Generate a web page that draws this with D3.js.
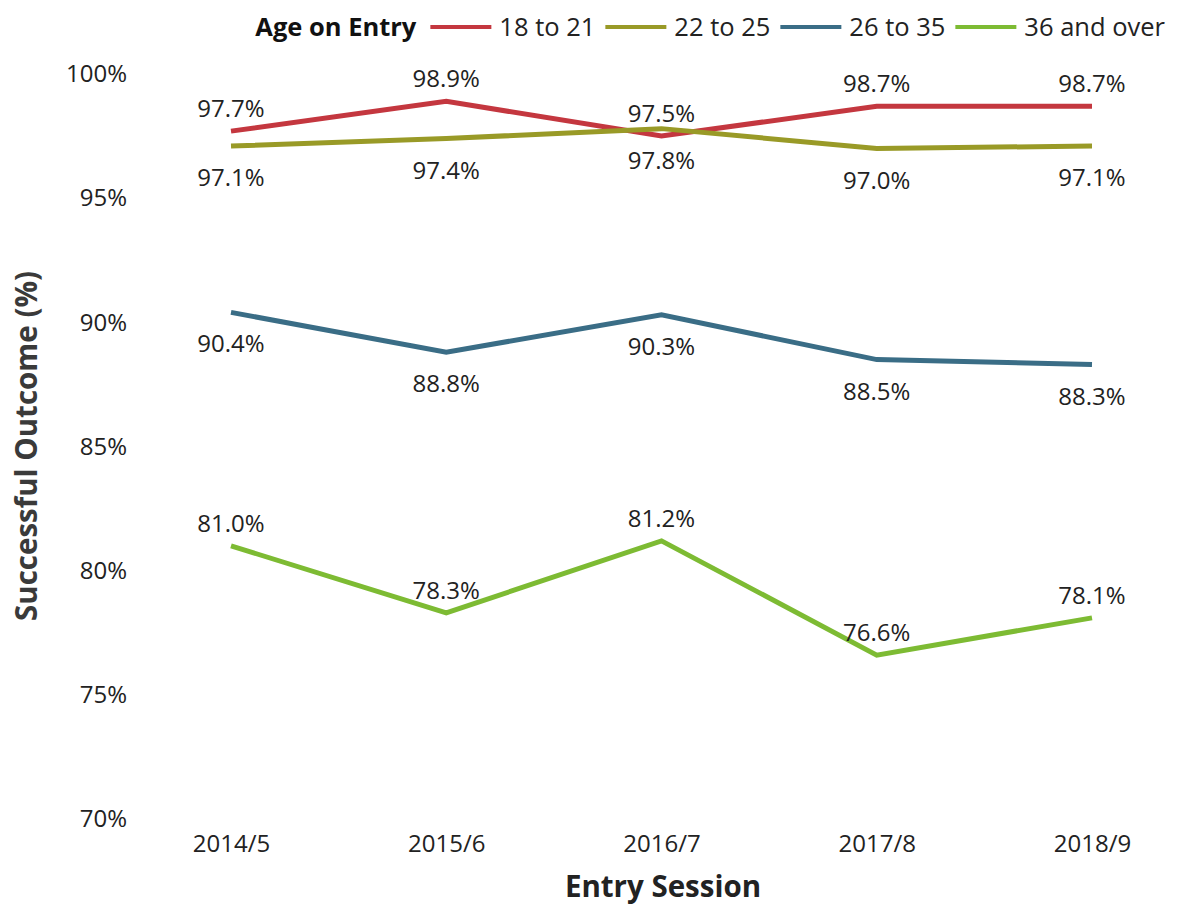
<!DOCTYPE html>
<html>
<head>
<meta charset="utf-8">
<script src="https://cdn.jsdelivr.net/npm/d3@7"></script>
<style>
  body { margin: 0; background: #fff; }
  text { font-family: "Open Sans", "Noto Sans", sans-serif; }
</style>
</head>
<body>
<div id="chart"></div>
<script>
const sessions = ["2014/5", "2015/6", "2016/7", "2017/8", "2018/9"];
const seriesNames = ["18 to 21", "22 to 25", "26 to 35", "36 and over"];
const age18to21 = [97.7, 98.9, 97.5, 98.7, 98.7];
const age22to25 = [97.1, 97.4, 97.8, 97.0, 97.1];
const age26to35 = [90.4, 88.8, 90.3, 88.5, 88.3];
const age36plus = [81.0, 78.3, 81.2, 76.6, 78.1];
const yTicks = [70, 75, 80, 85, 90, 95, 100];

const colors = ["#c4373f", "#999a27", "#3a6d86", "#7dbb33"];
// label above (-1) or below (+1) the point
const labelSide = [-1, 1, 1, -1];

const data = [age18to21, age22to25, age26to35, age36plus].map((vals, i) => ({
    key: seriesNames[i],
    color: colors[i],
    side: labelSide[i],
    values: vals.map((v, j) => ({x: sessions[j], value: v}))
}));

const width = 1179, height = 907;
const conf = {ml: 231, mr: 87, mt: 74, mb: 88};

const svg = d3.select("#chart")
    .append("svg")
        .attr("width", width)
        .attr("height", height)
        .attr("viewBox", [0, 0, width, height]);

const xAxis = d3.scalePoint()
    .domain(sessions)
    .range([conf.ml, width - conf.mr]);
const yAxis = d3.scaleLinear()
    .domain([70, 100])
    .range([height - conf.mb, conf.mt]);

// y axis tick labels
svg.append("g")
    .attr("class", "yAxes")
    .attr("transform", "translate(130,0)")
    .call(d3.axisLeft(yAxis).tickValues(yTicks).tickFormat(d => d + "%").tickSize(0))
    .call(g => g.select(".domain").remove())
    .call(g => g.selectAll("text")
        .attr("font-size", 24)
        .attr("fill", "#222")
        .attr("font-family", "'Open Sans', sans-serif"));

// x axis tick labels
svg.append("g")
    .attr("class", "xAxes")
    .attr("transform", `translate(0,${height - conf.mb + 13})`)
    .call(d3.axisBottom(xAxis).tickSize(0))
    .call(g => g.select(".domain").remove())
    .call(g => g.selectAll("text")
        .attr("font-size", 24)
        .attr("fill", "#222")
        .attr("font-family", "'Open Sans', sans-serif"));

// axis titles
svg.append("text")
    .attr("x", 663).attr("y", 897)
    .attr("text-anchor", "middle")
    .attr("font-size", 29.5).attr("font-weight", "bold")
    .attr("fill", "#222")
    .text("Entry Session");

svg.append("text")
    .attr("transform", "translate(37,446) rotate(-90)")
    .attr("text-anchor", "middle")
    .attr("font-size", 29.5).attr("font-weight", "bold")
    .attr("fill", "#3a3a3a")
    .text("Successful Outcome (%)");

// lines
const line = d3.line()
    .x(d => xAxis(d.x))
    .y(d => yAxis(d.value));

svg.selectAll(".line")
    .data(data)
    .enter()
    .append("path")
        .attr("fill", "none")
        .attr("stroke", d => d.color)
        .attr("stroke-width", 5)
        .attr("d", d => line(d.values));

// data labels
data.forEach(s => {
    svg.append("g")
        .selectAll("text")
        .data(s.values)
        .enter()
        .append("text")
            .attr("x", d => xAxis(d.x))
            .attr("y", d => yAxis(d.value) + (s.side < 0 ? -14 : 40))
            .attr("text-anchor", "middle")
            .attr("font-size", 24)
            .attr("fill", "#222")
            .text(d => d.value.toFixed(1) + "%");
});

// legend, laid out then right aligned to the plot edge
const legend = svg.append("g").attr("class", "legend");
const legendY = 27;
let lx = 0;
const title = legend.append("text")
    .attr("x", lx).attr("y", legendY + 9)
    .attr("font-size", 25.5).attr("font-weight", "bold")
    .attr("fill", "#111")
    .text("Age on Entry");
lx += title.node().getComputedTextLength() + 14;
data.forEach((s, i) => {
    legend.append("line")
        .attr("x1", lx).attr("x2", lx + 61)
        .attr("y1", legendY).attr("y2", legendY)
        .attr("stroke", s.color).attr("stroke-width", 4);
    const t = legend.append("text")
        .attr("x", lx + 69).attr("y", legendY + 9)
        .attr("font-size", 25.5)
        .attr("fill", "#222")
        .text(s.key);
    lx += 69 + t.node().getComputedTextLength() + (i < data.length - 1 ? 10 : 0);
});
legend.attr("transform", `translate(${1165 - lx},0)`);
</script>
</body>
</html>
